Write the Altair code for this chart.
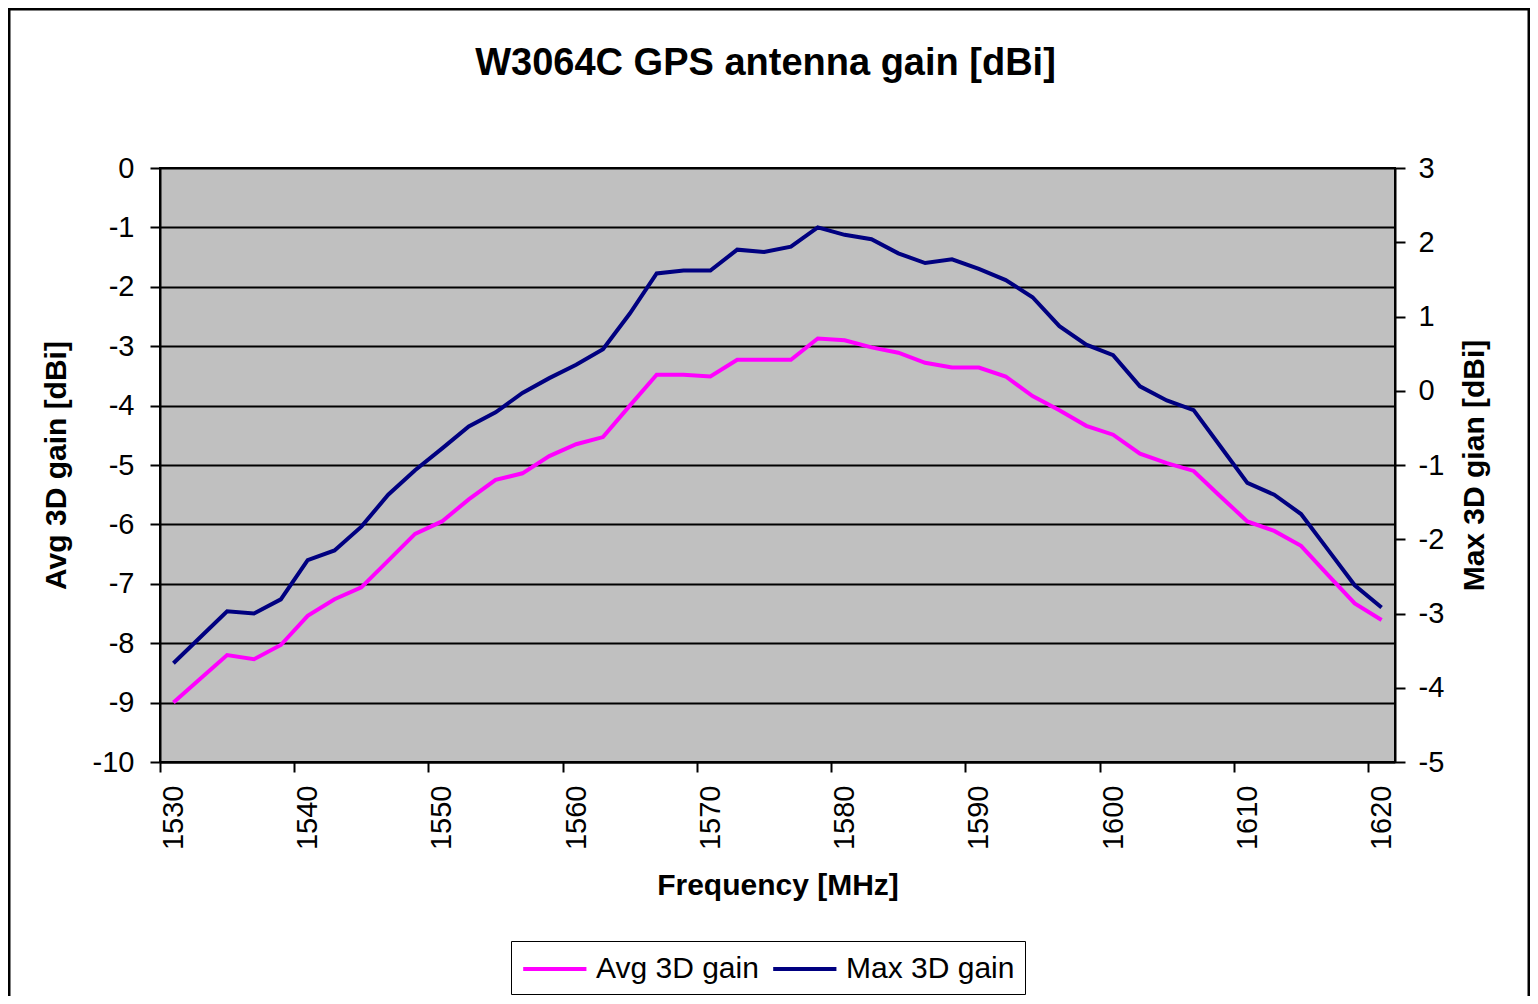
import altair as alt
import pandas as pd

# ---- data ----
freq = [1530, 1532, 1534, 1536, 1538, 1540, 1542, 1544, 1546, 1548,
        1550, 1552, 1554, 1556, 1558, 1560, 1562, 1564, 1566, 1568,
        1570, 1572, 1574, 1576, 1578, 1580, 1582, 1584, 1586, 1588,
        1590, 1592, 1594, 1596, 1598, 1600, 1602, 1604, 1606, 1608,
        1610, 1612, 1614, 1616, 1618, 1620]
avg_gain = [-9.0, -8.6, -8.2, -8.27, -8.03, -7.54, -7.26, -7.06, -6.61, -6.16,
            -5.95, -5.58, -5.25, -5.14, -4.85, -4.65, -4.53, -4.0, -3.48, -3.48,
            -3.51, -3.23, -3.23, -3.23, -2.87, -2.90, -3.02, -3.11, -3.28, -3.36,
            -3.36, -3.51, -3.84, -4.08, -4.34, -4.49, -4.81, -4.97, -5.10, -5.53,
            -5.95, -6.11, -6.36, -6.85, -7.33, -7.61]
max_gain = [-3.67, -3.32, -2.97, -3.0, -2.81, -2.28, -2.15, -1.83, -1.40, -1.07,
            -0.78, -0.48, -0.29, -0.03, 0.17, 0.35, 0.56, 1.04, 1.58, 1.62,
            1.62, 1.90, 1.87, 1.94, 2.20, 2.10, 2.04, 1.85, 1.72, 1.77,
            1.64, 1.49, 1.26, 0.87, 0.62, 0.48, 0.06, -0.13, -0.26, -0.75,
            -1.24, -1.40, -1.66, -2.14, -2.62, -2.92]
series_names = ["Avg 3D gain", "Max 3D gain"]
series_colors = ["#FF00FF", "#000080"]
x_tick_labels = [1530, 1540, 1550, 1560, 1570, 1580, 1590, 1600, 1610, 1620]
left_ticks = [-10, -9, -8, -7, -6, -5, -4, -3, -2, -1, 0]
right_ticks = [-5, -4, -3, -2, -1, 0, 1, 2, 3]

df = pd.DataFrame({"freq": freq, "avg": avg_gain, "max": max_gain})

FONT = "Liberation Sans"
W, H = 1235, 594
half_cat = W / 46 / 2
LABEL = "datum.value + ''"

x_enc = alt.X(
    "freq:Q",
    scale=alt.Scale(domain=[1529, 1621], nice=False, zero=False),
    axis=alt.Axis(
        values=x_tick_labels, title="Frequency [MHz]", labelAngle=270,
        tickOffset=-half_cat, labelOffset=half_cat, grid=False,
        labelPadding=13, titlePadding=21, labelExpr=LABEL,
    ),
)

color = alt.Color(
    "series:N",
    scale=alt.Scale(domain=series_names, range=series_colors),
    legend=alt.Legend(
        title=None, orient="none", legendX=351, legendY=773,
        direction="horizontal", symbolType="M-1,0H3", symbolSize=1000,
        symbolStrokeWidth=4, labelFont=FONT, labelFontSize=30,
        labelColor="black", labelOffset=39, columnPadding=6,
        labelLimit=0, strokeColor="black", fillColor="white", padding=10,
    ),
)

avg_line = alt.Chart(df).transform_calculate(
    series=f"'{series_names[0]}'"
).mark_line(strokeWidth=4).encode(
    x=x_enc,
    y=alt.Y(
        "avg:Q",
        scale=alt.Scale(domain=[-10, 0], nice=False, zero=False),
        axis=alt.Axis(
            orient="left", values=left_ticks, title="Avg 3D gain [dBi]",
            grid=True, gridColor="black", gridWidth=2, gridOpacity=1,
            labelPadding=16, titlePadding=21, labelExpr=LABEL,
        ),
    ),
    color=color,
)

max_line = alt.Chart(df).transform_calculate(
    series=f"'{series_names[1]}'"
).mark_line(strokeWidth=4).encode(
    x=x_enc,
    y=alt.Y(
        "max:Q",
        scale=alt.Scale(domain=[-5, 3], nice=False, zero=False),
        axis=alt.Axis(
            orient="right", values=right_ticks, title="Max 3D gian [dBi]",
            grid=False, labelPadding=13, titlePadding=16, titleAngle=270,
            titleBaseline="top", labelExpr=LABEL,
        ),
    ),
    color=color,
)

border = alt.Chart(pd.DataFrame({"k": [0]})).mark_rect(
    filled=False, stroke="black", strokeWidth=3
).encode(
    x=alt.value(-151), x2=alt.value(1369),
    y=alt.value(-159), y2=alt.value(850),
)

chart = alt.layer(avg_line, max_line, border).resolve_scale(
    y="independent"
).properties(
    width=W, height=H,
    background="white",
    autosize=alt.AutoSizeParams(type="none"),
    padding={"left": 152, "top": 160, "right": 135, "bottom": 234},
    title=alt.TitleParams(
        "W3064C GPS antenna gain [dBi]", font=FONT, fontSize=38,
        fontWeight="bold", color="black", offset=-75, anchor="middle",
        dx=-12,
    ),
).configure_view(
    fill="#C0C0C0", stroke="black", strokeWidth=2
).configure_axis(
    domainColor="black", domainWidth=2, tickColor="black", tickWidth=2,
    tickSize=10, labelFont=FONT, labelFontSize=29, labelColor="black",
    titleFont=FONT, titleFontSize=30, titleFontWeight="bold",
    titleColor="black", labelFlush=False, labelOverlap=False,
)

chart.save("out.html", embed_options={"renderer": "svg", "actions": False})
